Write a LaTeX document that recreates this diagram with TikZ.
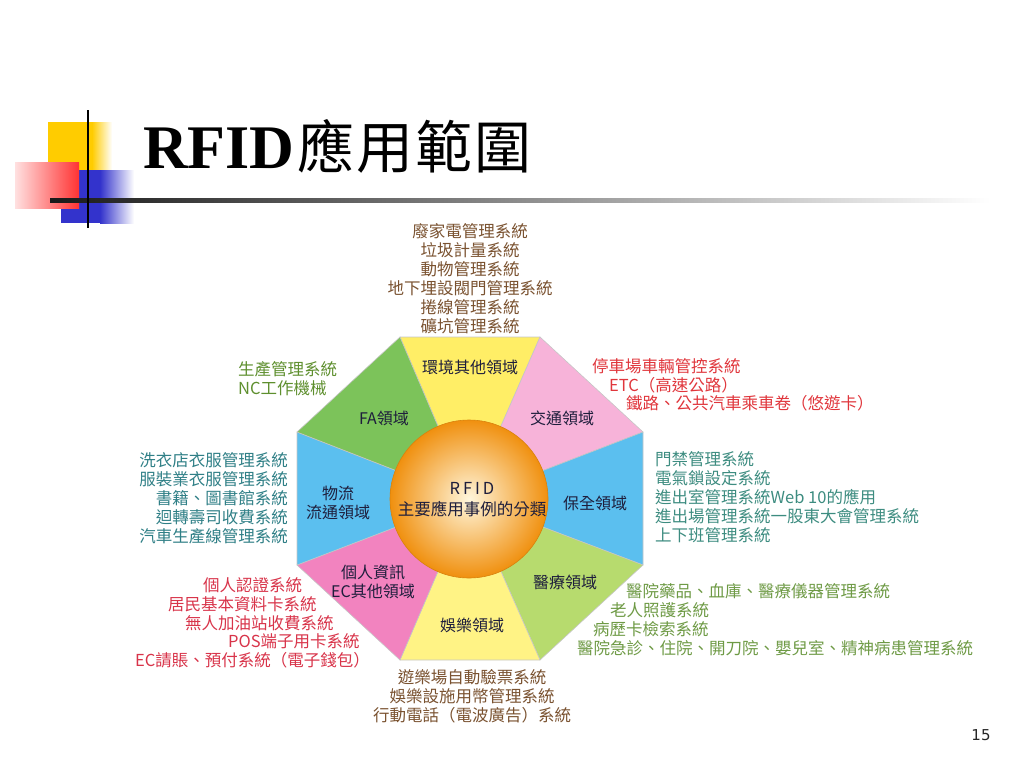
\documentclass[tikz,border=0pt]{standalone}
\usepackage{fontspec}
\setmainfont{Liberation Serif}
\newfontfamily\cjk{Noto Sans CJK TC}
\newfontfamily\pagefont{DejaVu Sans}

\definecolor{envYellow}{HTML}{FFEE66}
\definecolor{funYellow}{HTML}{FFF385}
\definecolor{trafficPink}{HTML}{F7B3D9}
\definecolor{ecPink}{HTML}{F283BF}
\definecolor{secBlue}{HTML}{5BBFEF}
\definecolor{faGreen}{HTML}{7CC35A}
\definecolor{medGreen}{HTML}{B7DB6E}
\definecolor{hubOrange}{HTML}{F0900F}
\definecolor{hubLight}{HTML}{FFF6DC}
\definecolor{fieldInk}{HTML}{1E1E3C}
\definecolor{brownInk}{HTML}{7A5230}
\definecolor{faInk}{HTML}{5E8F2E}
\definecolor{tealInk}{HTML}{2F7F86}
\definecolor{redInk}{HTML}{E0363C}
\definecolor{secInk}{HTML}{3D8C80}
\definecolor{medInk}{HTML}{6E9A45}
\definecolor{ecInk}{HTML}{D8344A}
\definecolor{decoYellow}{HTML}{FFCC00}
\definecolor{decoBlue}{HTML}{3333CC}
\definecolor{decoRed}{HTML}{FF3333}

\tikzset{
  sector/.style={draw=white!55!gray, line width=0.6pt},
  fieldlabel/.style={font=\cjk\fontsize{16}{19}\selectfont, text=fieldInk, align=center, inner sep=0pt},
  apps/.style={font=\cjk\fontsize{16.5}{19}\selectfont, inner sep=0pt},
}

\begin{document}
\begin{tikzpicture}[x=1pt,y=-1pt]
\useasboundingbox (0,0) rectangle (1024,768);

\fill[decoYellow] (48,122) rectangle (92,170);
\shade[left color=decoYellow, right color=white] (92,122) rectangle (112,170);
\fill[decoBlue] (61,170) rectangle (100,223);
\shade[left color=decoBlue, right color=white] (100,170) rectangle (134,223);
\shade[left color=decoRed!15, right color=decoRed] (15,162) rectangle (79,208);
\shade[left color=black!90, right color=white] (50,198) rectangle (990,202);
\draw[line width=2pt] (88,110) -- (88,228);

\node[anchor=base west, inner sep=0pt] (title) at (143,168)
  {\fontsize{62}{62}\selectfont\bfseries RFID\mdseries\cjk\fontsize{57}{57}\selectfont\kern3pt 應\kern2pt 用\kern2pt 範\kern2pt 圍};

\coordinate (c) at (469,499);
\coordinate (v1) at (400,337);
\coordinate (v2) at (540,337);
\coordinate (v3) at (643,432);
\coordinate (v4) at (643,565);
\coordinate (v5) at (540,660);
\coordinate (v6) at (400,660);
\coordinate (v7) at (297,565);
\coordinate (v8) at (297,432);

\filldraw[sector, fill=envYellow] (c) -- (v1) -- (v2) -- cycle;
\filldraw[sector, fill=trafficPink] (c) -- (v2) -- (v3) -- cycle;
\filldraw[sector, fill=secBlue] (c) -- (v3) -- (v4) -- cycle;
\filldraw[sector, fill=medGreen] (c) -- (v4) -- (v5) -- cycle;
\filldraw[sector, fill=funYellow] (c) -- (v5) -- (v6) -- cycle;
\filldraw[sector, fill=ecPink] (c) -- (v6) -- (v7) -- cycle;
\filldraw[sector, fill=secBlue] (c) -- (v7) -- (v8) -- cycle;
\filldraw[sector, fill=faGreen] (c) -- (v8) -- (v1) -- cycle;

\shade[inner color=hubLight, outer color=hubOrange] (c) circle [radius=79pt];
\draw[hubOrange!90!black, line width=0.6pt] (c) circle [radius=79pt];
\node[fieldlabel, font=\cjk\fontsize{16.5}{21}\selectfont] (hub) at (472,500)
  {{\addfontfeature{LetterSpace=18}RFID}\\主要應用事例的分類};

\node[fieldlabel] (envField) at (470,367) {環境其他領域};
\node[fieldlabel] (trafficField) at (562,418) {交通領域};
\node[fieldlabel] (secField) at (595,503) {保全領域};
\node[fieldlabel] (medField) at (565,582) {醫療領域};
\node[fieldlabel] (funField) at (472,625) {娛樂領域};
\node[fieldlabel] (ecField) at (373,582) {個人資訊\\EC其他領域};
\node[fieldlabel] (logiField) at (338,503) {物流\\流通領域};
\node[fieldlabel] (faField) at (384,418) {FA領域};

\node[apps, text=brownInk, align=center] (envApps) at (470,279)
  {廢家電管理系統\\垃圾計量系統\\動物管理系統\\地下埋設閥門管理系統\\捲線管理系統\\礦坑管理系統};
\node[apps, text=faInk, align=left, anchor=west] (faApps) at (238,379)
  {生產管理系統\\NC工作機械};
\node[apps, text=tealInk, align=right, anchor=east] (logiApps) at (288,498)
  {洗衣店衣服管理系統\\服裝業衣服管理系統\\書籍、圖書館系統\\迴轉壽司收費系統\\汽車生產線管理系統};
\node[apps, text=secInk, align=left, anchor=west] (secApps) at (655,497)
  {門禁管理系統\\電氣鎖設定系統\\進出室管理系統Web 10的應用\\進出場管理系統一股東大會管理系統\\上下班管理系統};
\node[apps, text=brownInk, align=center] (funApps) at (472,696)
  {遊樂場自動驗票系統\\娛樂設施用幣管理系統\\行動電話（電波廣告）系統};

\node[apps, text=redInk, anchor=west] (traffic1) at (592,366) {停車場車輛管控系統};
\node[apps, text=redInk, anchor=west] (traffic2) at (609,385) {ETC（高速公路）};
\node[apps, text=redInk, anchor=west] (traffic3) at (626,403) {鐵路、公共汽車乘車卷（悠遊卡）};

\node[apps, text=medInk, anchor=west] (med1) at (626,591) {醫院藥品、血庫、醫療儀器管理系統};
\node[apps, text=medInk, anchor=west] (med2) at (610,610) {老人照護系統};
\node[apps, text=medInk, anchor=west] (med3) at (593,629) {病歷卡檢索系統};
\node[apps, text=medInk, anchor=west] (med4) at (577,648) {醫院急診、住院、開刀院、嬰兒室、精神病患管理系統};

\node[apps, text=ecInk, anchor=west] (ec1) at (203,585) {個人認證系統};
\node[apps, text=ecInk, anchor=west] (ec2) at (168,604) {居民基本資料卡系統};
\node[apps, text=ecInk, anchor=west] (ec3) at (185,623) {無人加油站收費系統};
\node[apps, text=ecInk, anchor=west] (ec4) at (228,641) {POS端子用卡系統};
\node[apps, text=ecInk, anchor=west] (ec5) at (135,660) {EC請賬、預付系統（電子錢包）};

\node[font=\pagefont\fontsize{15}{15}\selectfont, text=black!85] (pageNo) at (981,735) {15};
\end{tikzpicture}
\end{document}
